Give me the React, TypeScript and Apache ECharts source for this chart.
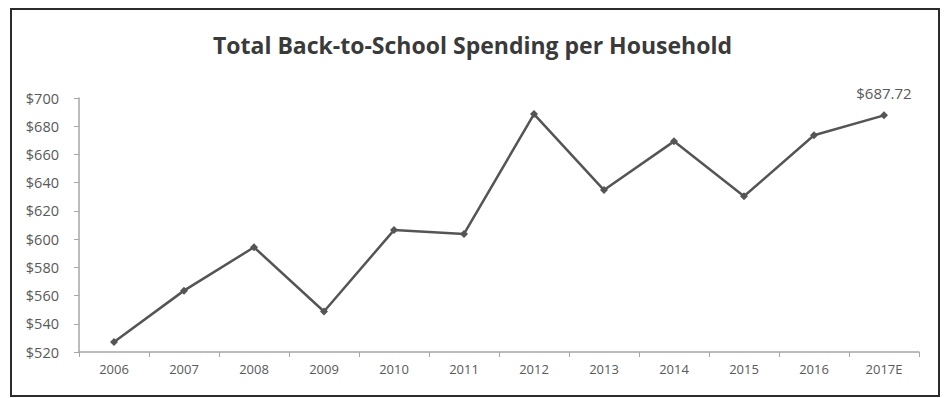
import React, { useEffect, useRef } from "react";
import * as echarts from "echarts";

const categories = ["2006", "2007", "2008", "2009", "2010", "2011", "2012", "2013", "2014", "2015", "2016", "2017E"];
const spending = [527.08, 563.49, 594.24, 548.72, 606.4, 603.63, 688.62, 634.78, 669.28, 630.36, 673.57, 687.72];
const titleText = "Total Back-to-School Spending per Household";
const lastLabel = "$687.72";

export default function App() {
  const ref = useRef<HTMLDivElement>(null);
  useEffect(() => {
    if (!ref.current) return;
    const chart = echarts.init(ref.current, undefined, { renderer: "svg" });
    const font = "'Open Sans', 'Noto Sans', sans-serif";
    chart.setOption({
      animation: false,
      backgroundColor: "#ffffff",
      textStyle: { fontFamily: font },
      title: {
        text: titleText,
        left: "center",
        top: 28,
        textStyle: { fontSize: 23, fontWeight: "bold", color: "#3a3a3a", fontFamily: font },
      },
      graphic: [
        {
          type: "rect",
          shape: { x: 11, y: 9, width: 928, height: 387 },
          style: { fill: "none", stroke: "#2b2b2b", lineWidth: 2 },
          z: 100,
        },
      ],
      grid: { left: 79, right: 26, top: 98, bottom: 46, containLabel: false },
      xAxis: {
        type: "category",
        data: categories,
        boundaryGap: true,
        axisLine: { show: true, lineStyle: { color: "#a6a6a6", width: 1.5 } },
        axisTick: { show: true, length: 5, lineStyle: { color: "#a6a6a6" } },
        axisLabel: { color: "#595959", fontSize: 13, margin: 10, fontFamily: font },
        splitLine: { show: false },
      },
      yAxis: {
        type: "value",
        min: 520,
        max: 700,
        interval: 20,
        axisLine: { show: true, lineStyle: { color: "#a6a6a6", width: 1.5 } },
        axisTick: { show: true, length: 5, lineStyle: { color: "#a6a6a6" } },
        axisLabel: {
          color: "#595959",
          fontSize: 14.5,
          margin: 20,
          fontFamily: font,
          formatter: (v: number) => "$" + v,
        },
        splitLine: { show: false },
      },
      series: [
        {
          type: "line",
          data: spending.map((v, i) =>
            i === spending.length - 1
              ? {
                  value: v,
                  label: {
                    show: true,
                    position: "top",
                    distance: 11,
                    formatter: () => lastLabel,
                    color: "#595959",
                    fontSize: 15,
                    fontFamily: font,
                  },
                }
              : v
          ),
          symbol: "diamond",
          symbolSize: 8,
          lineStyle: { color: "#555555", width: 2.5 },
          itemStyle: { color: "#555555" },
        },
      ],
    });
    return () => chart.dispose();
  }, []);
  return (
    <div
      ref={ref}
      style={{ position: "fixed", left: 0, top: 0, width: 945, height: 398 }}
    />
  );
}
